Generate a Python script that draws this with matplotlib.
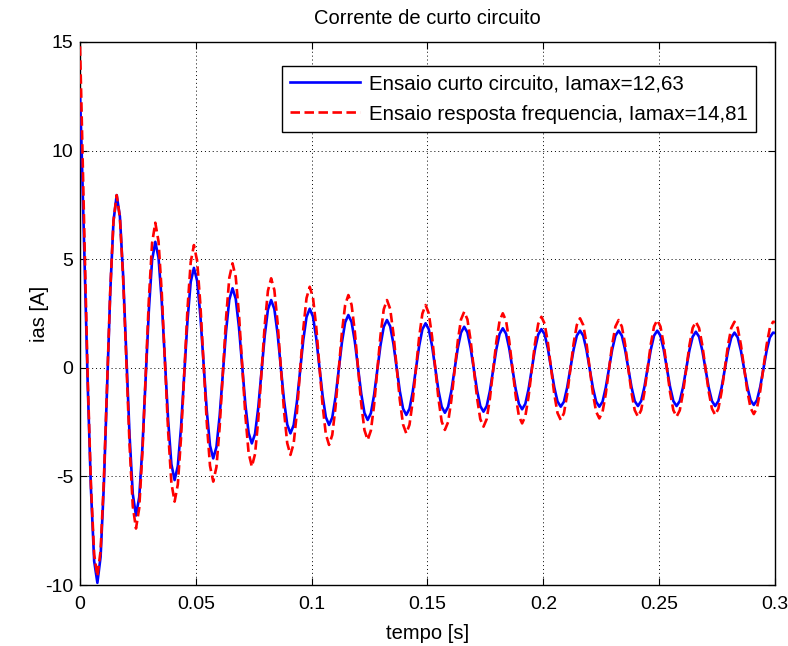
import numpy as np
import matplotlib
matplotlib.use("Agg")
import matplotlib.pyplot as plt

plt.rcParams['font.family'] = ['Liberation Sans', 'DejaVu Sans']
plt.rcParams['axes.unicode_minus'] = False

# sample times: t=0, then uniform samples, then t=0.3
t_start = 0.0
t_first = 0.00056
t_step = 1.0 / 720.0
n_samples = 216
t_end = 0.3

# Ensaio curto circuito (blue) values
ias_cc = [12.6,
    10.6, 5.0, -0.8, -5.6, -8.9, -9.9,
    -8.70, -5.44, -0.97, 3.49, 6.75, 7.95,
    6.96, 4.26, 0.57, -3.11, -5.81, -6.80,
    -5.96, -3.65, -0.50, 2.65, 4.96, 5.80,
    5.07, 3.06, 0.31, -2.43, -4.44, -5.17,
    -4.52, -2.73, -0.28, 2.16, 3.95, 4.60,
    4.01, 2.41, 0.21, -1.98, -3.58, -4.17,
    -3.65, -2.21, -0.25, 1.70, 3.14, 3.66,
    3.18, 1.87, 0.09, -1.70, -3.00, -3.48,
    -3.04, -1.83, -0.18, 1.47, 2.68, 3.12,
    2.71, 1.58, 0.05, -1.49, -2.61, -3.02,
    -2.64, -1.58, -0.15, 1.29, 2.34, 2.72,
    2.36, 1.38, 0.04, -1.29, -2.27, -2.63,
    -2.29, -1.36, -0.10, 1.17, 2.09, 2.43,
    2.11, 1.22, 0.01, -1.19, -2.08, -2.40,
    -2.09, -1.25, -0.10, 1.05, 1.89, 2.20,
    1.91, 1.11, 0.01, -1.08, -1.88, -2.17,
    -1.89, -1.11, -0.06, 1.00, 1.77, 2.05,
    1.77, 1.02, -0.01, -1.04, -1.79, -2.07,
    -1.80, -1.08, -0.09, 0.90, 1.62, 1.89,
    1.63, 0.91, -0.07, -1.04, -1.76, -2.02,
    -1.76, -1.06, -0.10, 0.86, 1.56, 1.82,
    1.57, 0.89, -0.05, -0.98, -1.66, -1.91,
    -1.66, -0.99, -0.06, 0.86, 1.53, 1.78,
    1.54, 0.89, -0.01, -0.90, -1.55, -1.79,
    -1.56, -0.91, -0.04, 0.84, 1.48, 1.71,
    1.48, 0.83, -0.04, -0.92, -1.56, -1.79,
    -1.56, -0.91, -0.04, 0.84, 1.48, 1.71,
    1.48, 0.84, -0.03, -0.89, -1.53, -1.76,
    -1.53, -0.89, -0.03, 0.84, 1.48, 1.71,
    1.48, 0.84, -0.03, -0.89, -1.53, -1.76,
    -1.53, -0.90, -0.05, 0.81, 1.43, 1.66,
    1.43, 0.80, -0.05, -0.91, -1.53, -1.76,
    -1.53, -0.91, -0.07, 0.78, 1.39, 1.62,
    1.40, 0.79, -0.05, -0.88, -1.49, -1.71,
    -1.49, -0.88, -0.04, 0.79, 1.40, 1.62,
    1.60]

# Ensaio resposta frequencia (red) values
ias_rf = [14.8,
    12.4, 5.8, -0.5, -5.4, -8.6, -9.6,
    -8.42, -5.21, -0.82, 3.56, 6.77, 7.95,
    6.92, 4.11, 0.27, -3.56, -6.37, -7.40,
    -6.46, -3.88, -0.36, 3.16, 5.74, 6.68,
    5.82, 3.47, 0.26, -2.95, -5.30, -6.16,
    -5.37, -3.21, -0.25, 2.70, 4.86, 5.65,
    4.92, 2.93, 0.20, -2.52, -4.51, -5.24,
    -4.57, -2.73, -0.21, 2.30, 4.14, 4.81,
    4.18, 2.47, 0.13, -2.21, -3.92, -4.55,
    -3.97, -2.38, -0.21, 1.95, 3.54, 4.12,
    3.58, 2.09, 0.05, -1.98, -3.47, -4.01,
    -3.49, -2.07, -0.14, 1.80, 3.21, 3.73,
    3.24, 1.91, 0.09, -1.73, -3.06, -3.55,
    -3.09, -1.82, -0.10, 1.63, 2.89, 3.35,
    2.90, 1.68, 0.01, -1.65, -2.87, -3.32,
    -2.89, -1.71, -0.10, 1.51, 2.69, 3.12,
    2.71, 1.58, 0.05, -1.49, -2.61, -3.02,
    -2.62, -1.54, -0.06, 1.41, 2.49, 2.89,
    2.50, 1.45, 0.01, -1.42, -2.47, -2.86,
    -2.50, -1.50, -0.14, 1.22, 2.22, 2.58,
    2.23, 1.26, -0.07, -1.39, -2.36, -2.71,
    -2.36, -1.40, -0.10, 1.21, 2.16, 2.51,
    2.17, 1.24, -0.03, -1.29, -2.22, -2.56,
    -2.23, -1.33, -0.10, 1.12, 2.02, 2.35,
    2.03, 1.16, -0.03, -1.21, -2.08, -2.40,
    -2.09, -1.23, -0.06, 1.11, 1.97, 2.28,
    1.97, 1.13, -0.03, -1.18, -2.02, -2.33,
    -2.03, -1.20, -0.06, 1.07, 1.90, 2.20,
    1.90, 1.09, -0.03, -1.14, -1.95, -2.25,
    -1.95, -1.14, -0.03, 1.09, 1.90, 2.20,
    1.90, 1.09, -0.03, -1.14, -1.95, -2.25,
    -1.96, -1.16, -0.06, 1.03, 1.83, 2.12,
    1.83, 1.05, -0.03, -1.10, -1.88, -2.17,
    -1.88, -1.10, -0.02, 1.05, 1.83, 2.12,
    1.84, 1.06, -0.01, -1.07, -1.85, -2.13,
    -1.85, -1.07, 0.00, 1.06, 1.84, 2.12,
    2.10]

label_cc = "Ensaio curto circuito, Iamax=12,63"
label_rf = "Ensaio resposta frequencia, Iamax=14,81"
title_text = "Corrente de curto circuito"
xlabel_text = "tempo [s]"
ylabel_text = "ias [A]"
xticks = [0, 0.05, 0.1, 0.15, 0.2, 0.25, 0.3]
xticklabels = ["0", "0.05", "0.1", "0.15", "0.2", "0.25", "0.3"]
yticks = [-10, -5, 0, 5, 10, 15]

t = np.concatenate([[t_start], t_first + np.arange(n_samples) * t_step, [t_end]])

fig = plt.figure(figsize=(7.88, 6.46), dpi=100)
ax = fig.add_axes([80/788, 1-585/646, 695/788, 543/646])

ax.plot(t, ias_cc, color='#0000ff', lw=1.9, label=label_cc, zorder=3)
ax.plot(t, ias_rf, color='#ff0000', lw=1.9, dashes=(3.6, 1.7), label=label_rf, zorder=4)

ax.set_xlim(0, 0.3)
ax.set_ylim(-10, 15)
ax.set_xticks(xticks)
ax.set_xticklabels(xticklabels)
ax.set_yticks(yticks)
ax.grid(True, color='black', linestyle=(0, (1, 3)), linewidth=0.7)
ax.tick_params(direction='in', top=True, right=True, length=5, width=0.8,
               labelsize=14)
ax.tick_params(axis='x', pad=8)
ax.tick_params(axis='y', pad=5)
for s in ax.spines.values():
    s.set_linewidth(1.0)

ax.set_title(title_text, fontsize=14.5, pad=13)
ax.set_xlabel(xlabel_text, fontsize=14.5, labelpad=8)
ax.set_ylabel(ylabel_text, fontsize=14.5, labelpad=-3)

leg = ax.legend(loc='upper right', bbox_to_anchor=(676/695, 519/543),
                borderaxespad=0, fancybox=False, framealpha=1, edgecolor='black',
                fontsize=14.8, handlelength=3.4, handletextpad=0.45,
                borderpad=0.4, labelspacing=0.55)
leg.get_frame().set_linewidth(1.0)

fig.savefig("out.png", dpi=100)
